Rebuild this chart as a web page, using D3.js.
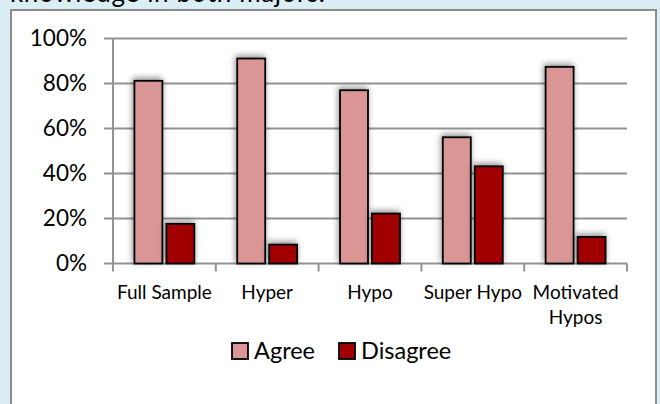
<!DOCTYPE html>
<html>
<head>
<meta charset="utf-8">
<script src="https://cdn.jsdelivr.net/npm/d3@7"></script>
<style>
  body { margin: 0; background: #dbeef4; }
  svg { display: block; }
  text { font-family: Lato, "Open Sans", sans-serif; fill: #000; }
</style>
</head>
<body>
<div class="chart"></div>
<script>
var categories = ["Full Sample", "Hyper", "Hypo", "Super Hypo", "Motivated Hypos"];
var categoryLines = [["Full Sample"], ["Hyper"], ["Hypo"], ["Super Hypo"], ["Motivated", "Hypos"]];
var seriesNames = ["Agree", "Disagree"];
var agree = [0.812, 0.911, 0.770, 0.561, 0.874];
var disagree = [0.176, 0.084, 0.222, 0.432, 0.118];
var yTicks = [0, 0.2, 0.4, 0.6, 0.8, 1.0];

var colors = { Agree: "#d99694", Disagree: "#a00000" };

var svgWidth = 660;
var svgHeight = 404;

var svg = d3.select(".chart")
  .append("svg")
  .attr("width", svgWidth)
  .attr("height", svgHeight);

// soft shadow behind the bars
var defs = svg.append("defs");
var shadow = defs.append("filter")
  .attr("id", "shadow")
  .attr("x", "-50%").attr("y", "-50%")
  .attr("width", "200%").attr("height", "200%");
shadow.append("feGaussianBlur").attr("in", "SourceAlpha").attr("stdDeviation", 3).attr("result", "blur");
shadow.append("feOffset").attr("dx", -1).attr("dy", -2).attr("result", "off");
shadow.append("feComponentTransfer").append("feFuncA").attr("type", "linear").attr("slope", 0.45);
var merge = shadow.append("feMerge");
merge.append("feMergeNode");
merge.append("feMergeNode").attr("in", "SourceGraphic");

// title, mostly cut off at the top
svg.append("text")
  .attr("x", 10)
  .attr("y", 2)
  .attr("font-size", 26)
  .attr("textLength", 315)
  .text("knowledge in both majors.");

// chart frame
svg.append("rect")
  .attr("x", 11)
  .attr("y", 10)
  .attr("width", 645)
  .attr("height", 420)
  .attr("fill", "#fff")
  .attr("stroke", "#8c8c8c")
  .attr("stroke-width", 2);

var plotLeft = 113, plotRight = 627, plotTop = 38.5, plotBottom = 263.5;

var x = d3.scaleBand()
  .domain(categories)
  .range([plotLeft, plotRight]);

var xSub = d3.scaleBand()
  .domain(seriesNames)
  .range([0, x.bandwidth()])
  .paddingInner(0.125)
  .paddingOuter(0.67);

var y = d3.scaleLinear()
  .domain([0, 1])
  .range([plotBottom, plotTop]);

var gridColor = "#939393";

// gridlines
svg.append("g")
  .selectAll("line")
  .data(yTicks)
  .enter()
  .append("line")
  .attr("x1", plotLeft - 9)
  .attr("x2", plotRight)
  .attr("y1", d => y(d))
  .attr("y2", d => y(d))
  .attr("stroke", gridColor)
  .attr("stroke-width", 2);

// y axis line
svg.append("line")
  .attr("x1", plotLeft).attr("x2", plotLeft)
  .attr("y1", y(1)).attr("y2", y(0))
  .attr("stroke", gridColor)
  .attr("stroke-width", 2);

// x tick marks at category boundaries
var boundaries = categories.map(c => x(c)).concat([x.range()[1]]);
svg.append("g")
  .selectAll("line")
  .data(boundaries)
  .enter()
  .append("line")
  .attr("x1", d => d).attr("x2", d => d)
  .attr("y1", y(0)).attr("y2", y(0) + 8)
  .attr("stroke", gridColor)
  .attr("stroke-width", 2);

// y tick labels
var yAxis = svg.append("g")
  .attr("transform", `translate(${plotLeft}, 0)`)
  .call(d3.axisLeft(y).tickValues(yTicks).tickFormat(d3.format(".0%")).tickSize(0).tickPadding(26));
yAxis.select(".domain").remove();
yAxis.selectAll("text")
  .attr("font-family", "Lato, 'Open Sans', sans-serif")
  .attr("font-size", 22.5)
  .attr("fill", "#000");

// bars
var rows = categories.map((c, i) => ({ category: c, values: [
  { name: "Agree", value: agree[i] },
  { name: "Disagree", value: disagree[i] }
] }));

var groups = svg.append("g")
  .selectAll("g")
  .data(rows)
  .enter()
  .append("g")
  .attr("transform", d => `translate(${x(d.category)}, 0)`);

groups.selectAll("rect")
  .data(d => d.values)
  .enter()
  .append("rect")
  .attr("x", d => xSub(d.name))
  .attr("y", d => y(d.value))
  .attr("width", xSub.bandwidth())
  .attr("height", d => y(0) - y(d.value))
  .attr("fill", d => colors[d.name])
  .attr("stroke", "#000")
  .attr("stroke-width", 1.8)
  .attr("filter", "url(#shadow)");

// x labels
var xLabels = svg.append("g")
  .selectAll("text")
  .data(categories)
  .enter()
  .append("text")
  .attr("x", d => x(d) + x.bandwidth() / 2)
  .attr("y", 299)
  .attr("text-anchor", "middle")
  .attr("font-size", 19);

xLabels.selectAll("tspan")
  .data((d, i) => categoryLines[i])
  .enter()
  .append("tspan")
  .attr("x", function() { return d3.select(this.parentNode).attr("x"); })
  .attr("dy", (d, i) => i === 0 ? 0 : 25)
  .text(d => d);

// legend
var legendItems = [
  { name: "Agree", x: 232, textX: 254 },
  { name: "Disagree", x: 339, textX: 361 }
];

var legend = svg.append("g")
  .selectAll("g")
  .data(legendItems)
  .enter()
  .append("g");

legend.append("rect")
  .attr("x", d => d.x)
  .attr("y", 343)
  .attr("width", 16)
  .attr("height", 16)
  .attr("fill", d => colors[d.name])
  .attr("stroke", "#000")
  .attr("stroke-width", 1.8);

legend.append("text")
  .attr("x", d => d.textX)
  .attr("y", 359)
  .attr("font-size", 23.5)
  .text(d => d.name);
</script>
</body>
</html>
